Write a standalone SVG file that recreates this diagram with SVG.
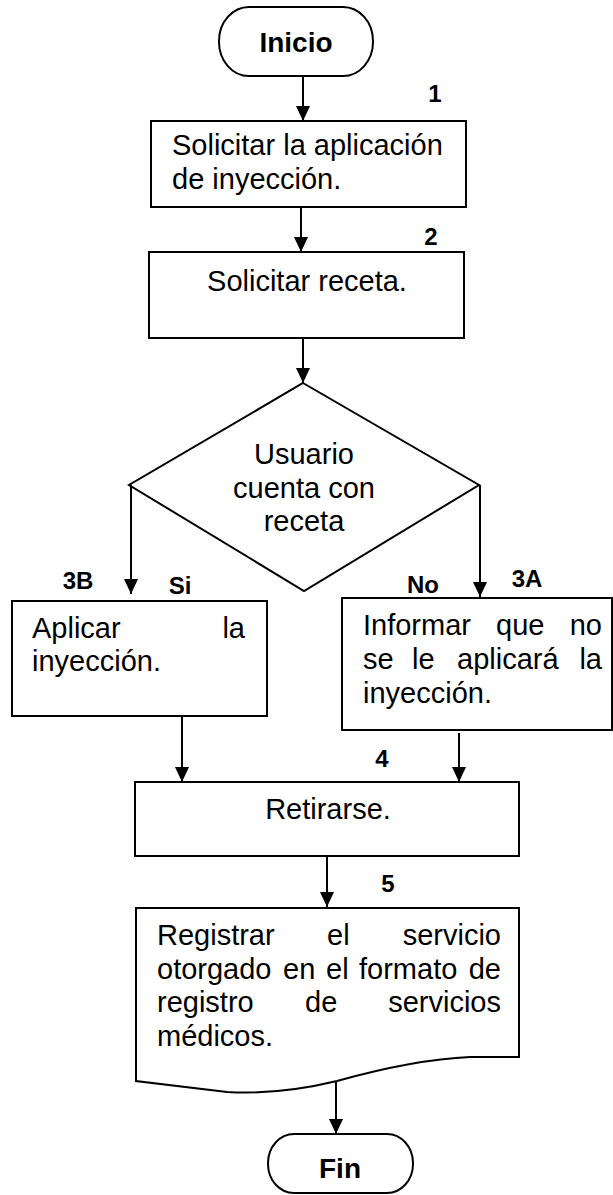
<svg xmlns="http://www.w3.org/2000/svg" width="613" height="1195" viewBox="0 0 613 1195">
<style>
.s{fill:#fff;stroke:#000;stroke-width:2}
.t{font-family:"Liberation Sans",Arial,sans-serif;font-size:29px;fill:#000}
.b{font-family:"Liberation Sans",Arial,sans-serif;font-size:28px;font-weight:bold;fill:#000}
.l{font-family:"Liberation Sans",Arial,sans-serif;font-size:24px;font-weight:bold;fill:#000}
.c{stroke:#000;stroke-width:2;fill:none;marker-end:url(#ah)}
</style>
<defs>
<marker id="ah" viewBox="0 0 15 14" refX="15" refY="7" markerWidth="15" markerHeight="14" markerUnits="userSpaceOnUse" orient="auto">
<path d="M0,0 L15,7 L0,14 Z" fill="#000"/>
</marker>
</defs>
<rect width="613" height="1195" fill="#fff"/>
<g id="inicio">
<rect class="s" x="219" y="7" width="154" height="69" rx="30" ry="34"/>
<text class="b" x="296" y="52" text-anchor="middle">Inicio</text>
</g>
<g id="paso1">
<rect class="s" x="151" y="121" width="315" height="86"/>
<text class="t" x="172" y="155">Solicitar la aplicación</text>
<text class="t" x="172" y="189">de inyección.</text>
<text class="l" x="435" y="102" text-anchor="middle">1</text>
</g>
<g id="paso2">
<rect class="s" x="149" y="252" width="315" height="86"/>
<text class="t" x="307" y="291" text-anchor="middle">Solicitar receta.</text>
<text class="l" x="431" y="245" text-anchor="middle">2</text>
</g>
<g id="decision">
<polygon class="s" points="303,383 479,485 304,591 129,485"/>
<text class="t" x="304" y="464" text-anchor="middle">Usuario</text>
<text class="t" x="304" y="498" text-anchor="middle">cuenta con</text>
<text class="t" x="304" y="531" text-anchor="middle">receta</text>
</g>
<g id="paso3B">
<rect class="s" x="12" y="601" width="255" height="115"/>
<text class="t" x="32" y="638">Aplicar</text>
<text class="t" x="245" y="638" text-anchor="end">la</text>
<text class="t" x="32" y="671">inyección.</text>
<text class="l" x="78" y="589" text-anchor="middle">3B</text>
<text class="l" x="180" y="594" text-anchor="middle">Si</text>
</g>
<g id="paso3A">
<rect class="s" x="342" y="598" width="270" height="132"/>
<text class="t" x="363" y="635">Informar</text>
<text class="t" x="496" y="635">que</text>
<text class="t" x="602" y="635" text-anchor="end">no</text>
<text class="t" x="363" y="669">se</text>
<text class="t" x="412" y="669">le</text>
<text class="t" x="457" y="669">aplicará</text>
<text class="t" x="602" y="669" text-anchor="end">la</text>
<text class="t" x="363" y="703">inyección.</text>
<text class="l" x="423" y="593" text-anchor="middle">No</text>
<text class="l" x="527" y="587" text-anchor="middle">3A</text>
</g>
<g id="paso4">
<rect class="s" x="135" y="782" width="384" height="74"/>
<text class="t" x="328" y="819" text-anchor="middle">Retirarse.</text>
<text class="l" x="382" y="767" text-anchor="middle">4</text>
</g>
<g id="paso5">
<path class="s" d="M136,908 H519 V1057 H470 C425,1059 380,1069 337,1081 C300,1090 262,1094 227,1092 L136,1081 Z"/>
<text class="t" x="157" y="945">Registrar</text>
<text class="t" x="327" y="945">el</text>
<text class="t" x="501" y="945" text-anchor="end">servicio</text>
<text class="t" x="157" y="979">otorgado</text>
<text class="t" x="283" y="979">en</text>
<text class="t" x="326" y="979">el</text>
<text class="t" x="359" y="979">formato</text>
<text class="t" x="501" y="979" text-anchor="end">de</text>
<text class="t" x="157" y="1012">registro</text>
<text class="t" x="305" y="1012">de</text>
<text class="t" x="501" y="1012" text-anchor="end">servicios</text>
<text class="t" x="157" y="1046">médicos.</text>
<text class="l" x="388" y="892" text-anchor="middle">5</text>
</g>
<g id="fin">
<rect class="s" x="268" y="1134" width="145" height="59" rx="26" ry="29"/>
<text class="b" x="340" y="1178" text-anchor="middle">Fin</text>
</g>
<g id="connectors">
<path class="c" d="M303,76 V121"/>
<path class="c" d="M301,207 V252"/>
<path class="c" d="M303,338 V383"/>
<path class="c" d="M131,485 V594"/>
<path class="c" d="M480,485 V597"/>
<path class="c" d="M182,716 V782"/>
<path class="c" d="M459,733 V782"/>
<path class="c" d="M327,856 V907"/>
<path class="c" d="M336,1081 V1134"/>
</g>
</svg>
